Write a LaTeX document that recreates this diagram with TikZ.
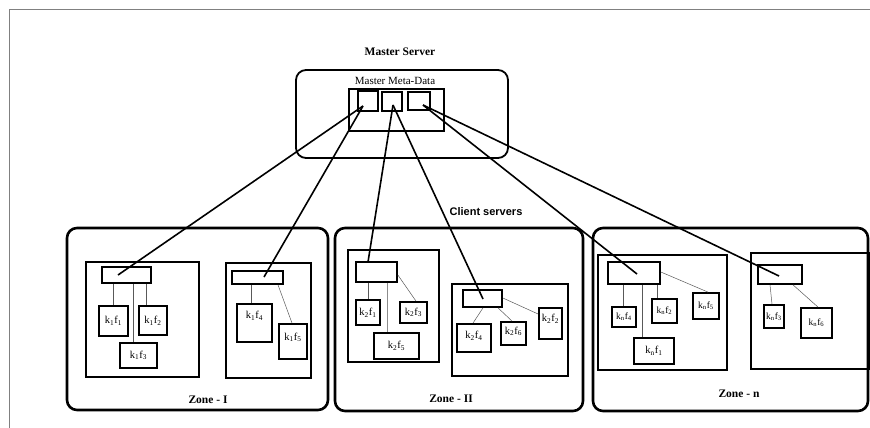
\documentclass[tikz,border=0pt]{standalone}
\usepackage{fontspec}
\setmainfont{Liberation Serif}
\newfontfamily\clientfont{Liberation Sans}
\begin{document}
\begin{tikzpicture}[x=1pt,y=-1pt,
  zone/.style={draw, line width=2.6pt, rounded corners=10pt, inner sep=0pt},
  mbox/.style={draw, line width=1.8pt, rounded corners=10pt, inner sep=0pt},
  client/.style={draw, line width=1.5pt, inner sep=0pt},
  hdr/.style={draw, line width=1.7pt, inner sep=0pt},
  sq/.style={draw, line width=1.7pt, inner sep=0pt},
  kbox/.style={draw, line width=1.8pt, inner sep=0pt, font=\fontsize{10.5}{12}\selectfont},
  ksmall/.style={kbox, font=\fontsize{9.5}{11}\selectfont},
  klab/.style={inner sep=0pt, font=\fontsize{10.5}{12}\selectfont},
  wire/.style={line width=0.5pt, draw=black!65},
  link/.style={line width=1.6pt},
  title/.style={font=\bfseries\fontsize{11.5}{13}\selectfont},
  frameline/.style={line width=0.9pt, draw=black!50}
]
\useasboundingbox (0,0) rectangle (870,428);
% page frame
\coordinate (f0) at (9,428);
\coordinate (f1) at (9,9);
\coordinate (f2) at (870,9);
\draw[frameline] (f0) -- (f1) -- (f2);

% Master server
\node[title] (mtitle) at (400,52) {Master Server};
\node[mbox, minimum width=212, minimum height=88] (master) at (402,114) {};
\node[font=\fontsize{11}{13}\selectfont] (mmeta) at (395,81) {Master Meta-Data};
\node[draw, line width=1.8pt, minimum width=95, minimum height=42] (meta) at (396.5,110) {};
\node[sq, minimum width=20, minimum height=20] (sq1) at (368,101) {};
\node[sq, minimum width=20, minimum height=19] (sq2) at (392,101.5) {};
\node[sq, minimum width=22, minimum height=18] (sq3) at (419,101) {};
\coordinate (m1) at (363,106);
\coordinate (m2) at (393,105);
\coordinate (m3) at (423,105);

\node[font=\clientfont\bfseries\fontsize{11}{13}\selectfont] (cs) at (486,212) {Client servers};

% Zones
\node[zone, minimum width=261, minimum height=182] (zI) at (197.5,319) {};
\node[zone, minimum width=248, minimum height=183] (zII) at (459,319.5) {};
\node[zone, minimum width=275, minimum height=183] (zn) at (730.5,319.5) {};
\node[title] (lI) at (208,400) {Zone - I};
\node[title] (lII) at (451,399) {Zone - II};
\node[title] (ln) at (739,394) {Zone - n};

% Zone I left client
\node[client, minimum width=113, minimum height=115] (c1) at (142.5,319.5) {};
\node[hdr, minimum width=49, minimum height=16] (h1) at (126.5,275) {};
\node[kbox, minimum width=29, minimum height=30] (k1f1) at (113.5,321) {k\textsubscript{1}f\textsubscript{1}};
\node[kbox, minimum width=28, minimum height=29] (k1f2) at (153,320.5) {k\textsubscript{1}f\textsubscript{2}};
\node[kbox, minimum width=37, minimum height=25] (k1f3) at (138.5,355.5) {k\textsubscript{1}f\textsubscript{3}};
\draw[wire] (h1.south -| k1f1.north) -- (k1f1.north);
\draw[wire] (h1.south -| 146,0) -- (k1f2.north -| 146,0);
\draw[wire] (h1.south -| 133,0) -- (k1f3.north -| 133,0);
% Zone I right client
\node[client, minimum width=85, minimum height=115] (c2) at (268.5,320.5) {};
\node[hdr, minimum width=51, minimum height=13] (h2) at (257.5,277.5) {};
\node[kbox, minimum width=35, minimum height=38,
  label={[klab, yshift=7pt]center:k\textsubscript{1}f\textsubscript{4}}] (k1f4) at (254.5,323) {};
\node[kbox, minimum width=28, minimum height=35,
  label={[klab, yshift=4pt]center:k\textsubscript{1}f\textsubscript{5}}] (k1f5) at (293,341.5) {};
\draw[wire] (h2.south -| 251,0) -- (k1f4.north -| 251,0);
\draw[wire] (h2.south -| 278,0) -- (k1f5.north -| 292,0);

% Zone II left client
\node[client, minimum width=91, minimum height=112] (c3) at (393.5,306) {};
\node[hdr, minimum width=41, minimum height=20] (h3) at (376.5,272) {};
\node[kbox, minimum width=24, minimum height=25] (k2f1) at (368,312.5) {k\textsubscript{2}f\textsubscript{1}};
\node[kbox, minimum width=27, minimum height=21] (k2f3) at (413.5,312.5) {k\textsubscript{2}f\textsubscript{3}};
\node[kbox, minimum width=45, minimum height=26] (k2f5) at (396.5,346) {k\textsubscript{2}f\textsubscript{5}};
\draw[wire] (h3.south -| k2f1.north) -- (k2f1.north);
\draw[wire, draw=black!45] (h3.south -| 387,0) -- (k2f5.north -| 387,0);
\draw[wire] (h3.east |- 0,275) -- (k2f3.north -| 416,0);
% Zone II right client
\node[client, minimum width=116, minimum height=92] (c4) at (510,330) {};
\node[hdr, minimum width=39, minimum height=17] (h4) at (482.5,298.5) {};
\node[kbox, minimum width=34, minimum height=28,
  label={[klab, yshift=2pt]center:k\textsubscript{2}f\textsubscript{4}}] (k2f4) at (474,338) {};
\node[kbox, minimum width=25, minimum height=23,
  label={[klab, yshift=2pt]center:k\textsubscript{2}f\textsubscript{6}}] (k2f6) at (513.5,333.5) {};
\node[kbox, minimum width=23, minimum height=31,
  label={[klab, yshift=5pt]center:k\textsubscript{2}f\textsubscript{2}}] (k2f2) at (550.5,323.5) {};
\draw[wire] (h4.south -| 483,0) -- (k2f4.north -| 473,0);
\draw[wire] (h4.south -| 498,0) -- (k2f6.north -| 512,0);
\draw[wire] (h4.east |- 0,298) -- (k2f2.west |- 0,314);

% Zone n left client
\node[client, minimum width=129, minimum height=115] (c5) at (662.5,312.5) {};
\node[hdr, minimum width=52, minimum height=22] (h5) at (634,273) {};
\node[ksmall, minimum width=24, minimum height=20] (knf4) at (624,317) {k\textsubscript{n}f\textsubscript{4}};
\node[ksmall, minimum width=25, minimum height=24] (knf2) at (664.5,311) {k\textsubscript{n}f\textsubscript{2}};
\node[ksmall, minimum width=26, minimum height=26] (knf5) at (706,306) {k\textsubscript{n}f\textsubscript{5}};
\node[kbox, minimum width=40, minimum height=26] (knf1) at (654,351) {k\textsubscript{n}f\textsubscript{1}};
\draw[wire] (h5.south -| 623,0) -- (knf4.north -| 623,0);
\draw[wire] (h5.south -| 642,0) -- (knf1.north -| 642,0);
\draw[wire] (h5.south -| 657,0) -- (knf2.north -| 657,0);
\draw[wire] (h5.east |- 0,272) -- (knf5.north -| 708,0);
% Zone n right client
\node[client, minimum width=118, minimum height=116] (c6) at (810,311) {};
\node[hdr, minimum width=44, minimum height=19] (h6) at (780,274.5) {};
\node[ksmall, minimum width=20, minimum height=23] (knf3) at (774,316.5) {k\textsubscript{n}f\textsubscript{3}};
\node[ksmall, minimum width=31, minimum height=30] (knf6) at (816.5,323) {k\textsubscript{n}f\textsubscript{6}};
\draw[wire] (h6.south -| 770,0) -- (knf3.north -| 772,0);
\draw[wire] (h6.south -| 793,0) -- (knf6.north -| 818,0);

% links master -> clients
\coordinate (e1) at (118,275);
\coordinate (e2) at (264,277);
\coordinate (e3) at (368,262);
\coordinate (e4) at (483,299);
\coordinate (e5) at (637,274);
\coordinate (e6) at (779,276);
\draw[link] (m1) -- (e1);
\draw[link] (m1) -- (e2);
\draw[link] (m2) -- (e3);
\draw[link] (m2) -- (e4);
\draw[link] (m3) -- (e5);
\draw[link] (m3) -- (e6);
\end{tikzpicture}
\end{document}
